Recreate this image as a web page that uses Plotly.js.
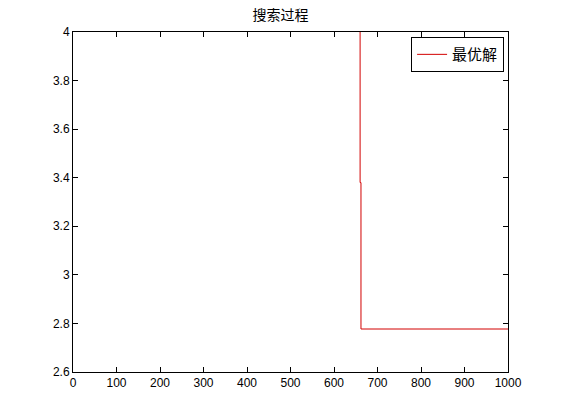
<!DOCTYPE html>
<html>
<head>
<meta charset="utf-8">
<script src="https://cdn.plot.ly/plotly-3.0.1.min.js"></script>
<style>
  html, body { margin: 0; padding: 0; background: #fff; }
  #chart { width: 561px; height: 420px; }
</style>
</head>
<body>
<div id="chart"></div>
<script>
// best value found so far, per iteration (values above 4 are clipped off the top)
var iterations = [1, 300, 658, 660, 662, 1000];
var bestValue = [5.2, 4.9, 4.6, 3.38, 2.777, 2.777];
var xTicks = [0, 100, 200, 300, 400, 500, 600, 700, 800, 900, 1000];
var yTicks = [2.6, 2.8, 3, 3.2, 3.4, 3.6, 3.8, 4];

var font = 'Liberation Sans, Arial, Noto Sans CJK SC, sans-serif';

var trace = {
    x: iterations,
    y: bestValue,
    type: 'scatter',
    mode: 'lines',
    name: '最优解',
    line: { color: 'rgb(210,0,0)', width: 1, shape: 'hv' }
};

var axisStyle = {
    showline: true,
    linecolor: '#000',
    linewidth: 1,
    mirror: 'allticks',
    ticks: 'inside',
    ticklen: 5,
    tickcolor: '#000',
    showgrid: false,
    zeroline: false,
    tickfont: { family: font, size: 12, color: '#000' }
};

var layout = {
    width: 561,
    height: 420,
    margin: { l: 73, r: 53, t: 32, b: 48 },
    paper_bgcolor: '#fff',
    plot_bgcolor: '#fff',
    font: { family: font, color: '#000' },
    title: {
        text: '搜索过程',
        font: { family: 'Noto Sans CJK SC', size: 14, color: '#000' },
        x: 0.5,
        xanchor: 'center',
        y: 0.965,
        yanchor: 'middle'
    },
    xaxis: Object.assign({}, axisStyle, {
        range: [0, 1000],
        tickvals: xTicks,
        ticktext: xTicks.map(String)
    }),
    yaxis: Object.assign({}, axisStyle, {
        range: [2.6, 4],
        tickvals: yTicks,
        ticktext: yTicks.map(String)
    }),
    showlegend: true,
    legend: {
        x: 0.991,
        y: 0.985,
        xanchor: 'right',
        yanchor: 'top',
        bgcolor: '#fff',
        bordercolor: '#000',
        borderwidth: 1,
        font: { family: 'Noto Sans CJK SC', size: 15, color: '#000' }
    }
};

Plotly.newPlot('chart', [trace], layout, { displayModeBar: false, staticPlot: true });
</script>
</body>
</html>
